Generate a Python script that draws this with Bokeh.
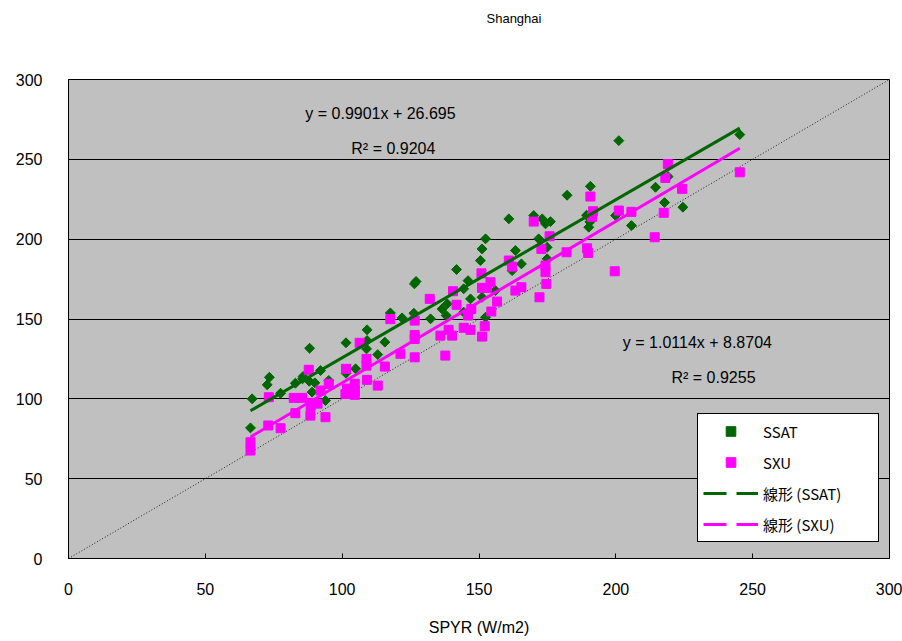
import math
from bokeh.plotting import figure
from bokeh.models import (Range1d, SingleIntervalTicker, Legend, LegendItem,
                          Label, ColumnDataSource, Title)
from bokeh.embed import file_html
from bokeh.resources import INLINE

# ---------------- data ----------------
title_text = "Shanghai"
x_label = "SPYR (W/m2)"
axis_min, axis_max, tick_step = 0, 300, 50

ssat_x = [245.3, 201.1, 190.7, 182.2, 214.5, 219.1, 217.8, 224.5, 205.7, 199.9,
          189.3, 190.5, 190.1, 170.0, 173.1, 174.3, 176.1, 160.9, 152.4, 151.1,
          150.5, 163.3, 165.5, 171.8, 174.9, 174.9, 162.1, 141.8, 146.0, 144.4,
          126.4, 127.0, 136.5, 138.4, 138.0, 146.9, 144.4, 151.1, 156.0, 152.4,
          132.3, 126.2, 121.9, 117.6, 109.1, 109.1, 101.4, 115.6, 108.9, 113.0,
          88.1, 92.1, 104.9, 101.4, 85.5, 88.0, 90.0, 95.1, 73.4, 72.6,
          67.1, 66.5, 77.5, 82.9, 85.7, 89.0, 93.9]
ssat_y = [265.5, 261.7, 233.1, 227.5, 232.5, 239.2, 222.9, 220.0, 208.5, 214.8,
          215.0, 210.8, 207.5, 214.8, 212.7, 209.6, 211.0, 212.7, 200.2, 193.9,
          186.6, 192.9, 184.5, 200.2, 194.9, 187.7, 180.3, 181.0, 174.0, 168.9,
          172.0, 173.5, 156.3, 159.5, 152.2, 162.6, 154.3, 163.6, 167.8, 151.1,
          150.1, 153.6, 150.7, 153.8, 143.2, 136.5, 135.1, 135.5, 131.3, 127.7,
          131.7, 117.7, 118.8, 116.0, 112.5, 111.0, 110.0, 111.5, 113.5, 108.8,
          100.0, 81.8, 103.5, 109.8, 114.0, 104.2, 98.9]

sxu_x = [245.3, 219.0, 218.1, 224.2, 217.5, 214.2, 205.7, 201.1, 190.7, 191.7,
         191.3, 182.0, 189.5, 189.9, 199.6, 170.0, 175.8, 172.8, 174.3, 174.3,
         174.6, 172.1, 160.9, 162.1, 165.5, 163.3, 150.9, 154.2, 151.1, 153.0,
         156.6, 154.5, 152.1, 151.1, 147.2, 146.0, 144.4, 146.9, 140.5, 141.8,
         138.9, 140.2, 135.9, 137.7, 132.0, 126.5, 126.5, 126.5, 126.5, 121.3,
         117.6, 115.6, 113.0, 108.9, 108.9, 109.1, 106.4, 101.4, 104.6, 104.6,
         104.6, 101.8, 101.2, 95.1, 87.8, 92.1, 73.2, 82.3, 85.4, 89.0,
         91.0, 88.5, 82.9, 88.4, 93.9, 73.0, 77.5, 66.5, 66.5]
sxu_y = [241.9, 247.1, 238.3, 231.5, 216.5, 201.2, 217.1, 217.9, 226.7, 217.5,
         214.0, 191.8, 194.3, 191.4, 179.9, 211.0, 201.8, 193.9, 183.5, 179.3,
         172.0, 163.6, 186.6, 182.8, 169.9, 167.8, 178.6, 173.0, 169.5, 169.5,
         160.9, 154.7, 145.5, 139.0, 156.3, 152.2, 144.5, 143.2, 167.4, 158.9,
         143.2, 139.6, 139.6, 127.1, 162.6, 149.0, 140.0, 137.5, 126.0, 128.2,
         149.9, 120.2, 108.3, 125.0, 120.8, 111.9, 135.1, 118.8, 109.4, 105.0,
         102.5, 106.4, 103.0, 109.4, 118.2, 105.2, 101.0, 100.6, 100.6, 97.5,
         97.0, 95.5, 91.0, 89.5, 88.5, 83.3, 81.6, 72.8, 67.6]

series_names = ["SSAT", "SXU"]
trend_names = ["線形 (SSAT)", "線形 (SXU)"]
slopes = [0.9901, 1.0114]
intercepts = [26.695, 8.8704]
r2_values = [0.9204, 0.9255]

GREEN = "#006600"
PINK = "#FF00FF"
FONT = "Liberation Sans"

# ---------------- figure ----------------
p = figure(width=902, height=641, output_backend="svg", toolbar_location=None,
           x_range=Range1d(axis_min, axis_max), y_range=Range1d(axis_min, axis_max),
           min_border_left=68, min_border_right=13, min_border_top=79,
           min_border_bottom=83, background_fill_color="#C0C0C0",
           border_fill_color="white")

p.outline_line_color = "black"
p.outline_line_alpha = 1
p.outline_line_width = 1

# title: a thin spacer panel next to the frame, then the real title above it
spacer = Title(text=" ", text_font_size="1px", standoff=49)
p.add_layout(spacer, "above")
main_title = Title(text=title_text, text_font=FONT, text_font_size="13px",
                   text_font_style="normal", text_color="black",
                   align="left", offset=418, vertical_align="top", standoff=0)
p.add_layout(main_title, "above")

for ax in (p.xaxis[0], p.yaxis[0]):
    ax.ticker = SingleIntervalTicker(interval=tick_step, num_minor_ticks=0)
    ax.axis_line_color = "black"
    ax.major_tick_line_color = "black"
    ax.minor_tick_line_color = None
    ax.major_label_text_font = FONT
    ax.major_label_text_font_size = "16px"
    ax.major_label_text_color = "black"

p.xaxis.major_tick_in = 5
p.xaxis.major_tick_out = 0
p.xaxis.major_label_standoff = 24
p.yaxis.major_tick_in = 0
p.yaxis.major_tick_out = 0
p.yaxis.major_label_standoff = 26

p.xaxis.axis_label = x_label
p.xaxis.axis_label_text_font = FONT
p.xaxis.axis_label_text_font_size = "16px"
p.xaxis.axis_label_text_font_style = "normal"
p.xaxis.axis_label_text_color = "black"
p.xaxis.axis_label_standoff = 21

p.xgrid.visible = False
p.ygrid.grid_line_color = "black"
p.ygrid.grid_line_alpha = 1
p.ygrid.grid_line_width = 1

# 1:1 reference line
p.line(x=[axis_min, axis_max], y=[axis_min, axis_max], line_color="#222222",
       line_width=1, line_dash="1 2")

src_ssat = ColumnDataSource(dict(x=ssat_x, y=ssat_y))
src_sxu = ColumnDataSource(dict(x=sxu_x, y=sxu_y))

r_ssat = p.scatter(x="x", y="y", source=src_ssat, marker="square",
                   angle=math.pi / 4, size=7, fill_color=GREEN, line_color=GREEN)
r_sxu = p.scatter(x="x", y="y", source=src_sxu, marker="square", size=9,
                  fill_color=PINK, line_color=PINK)

# trend lines
nan = float("nan")
legend_line_renderers = []
for xs, color, m, b in ((ssat_x, GREEN, slopes[0], intercepts[0]),
                        (sxu_x, PINK, slopes[1], intercepts[1])):
    lx = [min(xs), max(xs)]
    ly = [m * v + b for v in lx]
    p.line(x=lx, y=ly, line_color=color, line_width=3)
    # invisible (NaN) dashed renderer used only for the legend sample
    legend_line_renderers.append(
        p.line(x=[nan, nan], y=[nan, nan], line_color=color, line_width=3,
               line_dash="23 10"))

legend = Legend(items=[
    LegendItem(label=series_names[0], renderers=[r_ssat]),
    LegendItem(label=series_names[1], renderers=[r_sxu]),
    LegendItem(label=trend_names[0], renderers=[legend_line_renderers[0]]),
    LegendItem(label=trend_names[1], renderers=[legend_line_renderers[1]]),
], location=(629, 16))
legend.border_line_color = "black"
legend.border_line_width = 1
legend.border_line_alpha = 1
legend.background_fill_color = "white"
legend.background_fill_alpha = 1
legend.label_text_font = "Noto Sans CJK JP"
legend.label_text_font_size = "15px"
legend.label_text_color = "black"
legend.glyph_width = 55
legend.glyph_height = 24
legend.label_height = 24
legend.label_width = 110
legend.spacing = 7
legend.padding = 5
legend.margin = 0
legend.label_standoff = 5
p.add_layout(legend)

# equation labels
eq_texts = [f"y = {slopes[0]}x + {intercepts[0]}",
            f"R² = {r2_values[0]}",
            f"y = {slopes[1]}x + {intercepts[1]}",
            f"R² = {r2_values[1]}"]
eq_pos = [(114.0, 278.6), (118.7, 256.7), (229.8, 135.3), (235.7, 113.3)]
for t, (lx, ly) in zip(eq_texts, eq_pos):
    p.add_layout(Label(x=lx, y=ly, text=t, text_align="center",
                       text_baseline="middle", text_font=FONT,
                       text_font_size="16px", text_color="black"))

open("out.html", "w").write(file_html(p, INLINE))
